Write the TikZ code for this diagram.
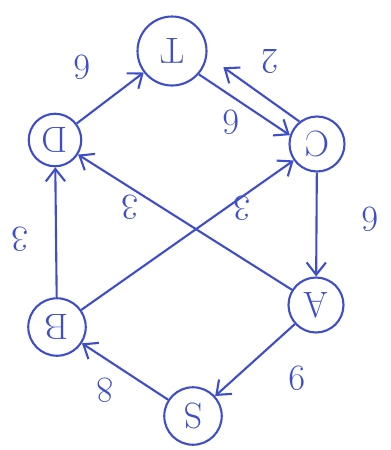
\documentclass[tikz,border=0pt]{standalone}
\usepackage{xcolor}
\usetikzlibrary{arrows.meta}
\definecolor{ink}{RGB}{62,78,200}

\begin{document}
\begin{tikzpicture}[x=0.02cm, y=-0.02cm]
  \tikzset{
    vert/.style={circle, draw=ink, line width=1.2pt, text=ink,
                 minimum size=1.1cm, inner sep=0pt, font=\huge, rotate=180},
    wlabel/.style={text=ink, font=\huge, rotate=180},
    arr/.style={-{Straight Barb[length=7pt, width=11pt]}, draw=ink, line width=1.2pt}
  }
  \useasboundingbox (0,0) rectangle (390,450);
  % vertices (drawn upside down, anchors turn with them)
  \node[vert, minimum size=1.38cm] (T) at (172,51)  {T};
  \node[vert, minimum size=1.05cm] (D) at (55,140)  {D};
  \node[vert, minimum size=1.1cm]  (C) at (317,144) {C};
  \node[vert, minimum size=1.1cm]  (A) at (316,305) {A};
  \node[vert, minimum size=1.15cm] (B) at (57,327)  {B};
  \node[vert, minimum size=1.15cm] (S) at (193,416) {S};
  \draw[arr] (D) -- (T);
  \draw[arr] (T.139) -- (C.-18);
  \draw[arr] (C.-52) -- ([shift={(10pt,-3pt)}]T.162);
  \foreach \a/\b in {C/A, A/D, B/C, B/D, A/S, S/B}
    \draw[arr] (\a) -- (\b);
  % weights
  \foreach \w/\x/\y in {6/82/67, 6/231/122, 2/270/62, 6/370/219,
                        3/130/207, 3/242/208, 3/20/239, 8/105/390, 9/297/378}
    \node[wlabel] at (\x,\y) {\w};
\end{tikzpicture}
\end{document}
